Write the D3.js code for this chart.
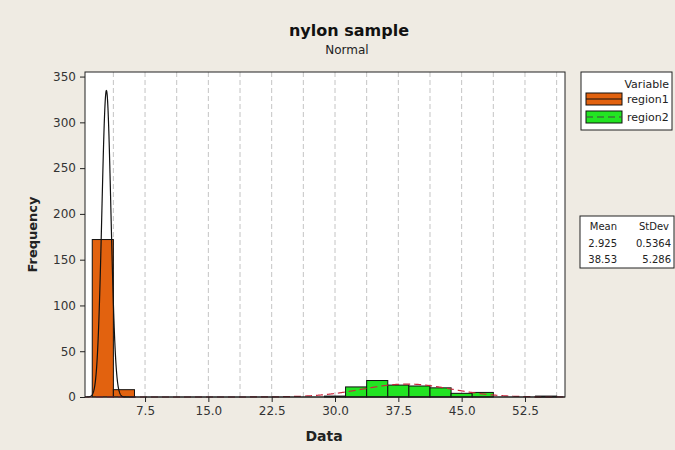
<!DOCTYPE html>
<html>
<head>
<script src="https://d3js.org/d3.v7.min.js"></script>
<title>nylon sample</title>
<style>
body {margin:0; background:#efebe3;}
text {font-family:"DejaVu Sans", Verdana, sans-serif;}
</style>
</head>
<body>
<div id="myDiv"></div>
<script>
// bins are 2.5 wide, values are midpoints
var region1Mids = [2.5, 5.0];
var region1Counts = [172, 8];
var region2Mids = [30.0, 32.5, 35.0, 37.5, 40.0, 42.5, 45.0, 47.5, 55.0];
var region2Counts = [1, 11, 18, 13, 12, 10, 4, 5, 1];
var binWidth = 2.5;

var seriesNames = ["region1", "region2"];
var means = [2.925, 38.53];
var stdevs = [0.5364, 5.286];
var meanLabels = ["2.925", "38.53"];
var stdevLabels = ["0.5364", "5.286"];

var xTicks = [7.5, 15.0, 22.5, 30.0, 37.5, 45.0, 52.5];
var gridStep = 3.75;
var yTicks = [0, 50, 100, 150, 200, 250, 300, 350];

var W = 675, H = 450;
var pLeft = 85, pRight = 565, pTop = 72, pBottom = 397;

var svg = d3.select("#myDiv").append("svg")
	.attr("width", W)
	.attr("height", H);

svg.append("rect").attr("width", W).attr("height", H).attr("fill", "#efebe3");

// scales
var xScale = d3.scaleLinear().domain([0.39, 57.24]).range([pLeft, pRight]);
var yScale = d3.scaleLinear().domain([0, 355]).range([pBottom, pTop]);

// plot area
svg.append("rect")
	.attr("x", pLeft).attr("y", pTop)
	.attr("width", pRight - pLeft).attr("height", pBottom - pTop)
	.attr("fill", "white");

// dashed grid lines every 3.75
var grid = d3.range(gridStep, 57, gridStep);
svg.selectAll(".grid").data(grid).enter()
	.append("line")
	.attr("class", "grid")
	.attr("x1", function(d) { return xScale(d); })
	.attr("x2", function(d) { return xScale(d); })
	.attr("y1", pTop).attr("y2", pBottom)
	.attr("stroke", "#c4c4c4")
	.attr("stroke-width", 1)
	.attr("stroke-dasharray", "5,3");

// histogram bars
function drawBars(mids, counts, color) {
	svg.append("g").selectAll("rect").data(mids).enter()
		.append("rect")
		.attr("x", function(d) { return xScale(d - binWidth / 2); })
		.attr("y", function(d, i) { return yScale(counts[i]); })
		.attr("width", function(d) { return xScale(d + binWidth / 2) - xScale(d - binWidth / 2); })
		.attr("height", function(d, i) { return yScale(0) - yScale(counts[i]); })
		.attr("fill", color)
		.attr("stroke", "#111")
		.attr("stroke-width", 1);
}
drawBars(region1Mids, region1Counts, "#e2620f");
drawBars(region2Mids, region2Counts, "#22e422");

// fitted normal curves
function normalCurve(mean, sd, n) {
	var pts = d3.range(0.39, 57.24, 0.02).map(function(x) {
		var z = (x - mean) / sd;
		return [x, n * binWidth * Math.exp(-z * z / 2) / (sd * Math.sqrt(2 * Math.PI))];
	});
	return d3.line()
		.x(function(d) { return xScale(d[0]); })
		.y(function(d) { return yScale(d[1]); })(pts);
}
var n1 = d3.sum(region1Counts), n2 = d3.sum(region2Counts);

svg.append("path")
	.attr("d", normalCurve(means[1], stdevs[1], n2))
	.attr("fill", "none")
	.attr("stroke", "#c8283e")
	.attr("stroke-width", 1.2)
	.attr("stroke-dasharray", "7,4");

svg.append("path")
	.attr("d", normalCurve(means[0], stdevs[0], n1))
	.attr("fill", "none")
	.attr("stroke", "#111")
	.attr("stroke-width", 1.2);

// frame
svg.append("rect")
	.attr("x", pLeft).attr("y", pTop)
	.attr("width", pRight - pLeft).attr("height", pBottom - pTop)
	.attr("fill", "none")
	.attr("stroke", "#222")
	.attr("stroke-width", 1);

// axes
var yaxis = d3.axisLeft(yScale).tickValues(yTicks).tickSizeOuter(0).tickSize(5).tickPadding(4);
var xaxis = d3.axisBottom(xScale).tickValues(xTicks).tickSizeOuter(0).tickSize(5).tickPadding(4)
	.tickFormat(d3.format(".1f"));

var gy = svg.append("g").attr("transform", "translate(" + pLeft + ",0)").call(yaxis);
var gx = svg.append("g").attr("transform", "translate(0," + pBottom + ")").call(xaxis);
[gx, gy].forEach(function(g) {
	g.select(".domain").remove();
	g.selectAll("line").attr("stroke", "#222");
	g.selectAll("text").attr("fill", "#333").style("font-size", "12px")
		.style("font-family", "'DejaVu Sans', Verdana, sans-serif");
});

// titles
svg.append("text").attr("x", 349).attr("y", 36)
	.attr("text-anchor", "middle")
	.style("font-size", "16px").style("font-weight", "bold")
	.attr("fill", "#111")
	.text("nylon sample");
svg.append("text").attr("x", 347).attr("y", 54)
	.attr("text-anchor", "middle")
	.style("font-size", "12px")
	.attr("fill", "#222")
	.text("Normal");

svg.append("text").attr("x", 324).attr("y", 441)
	.attr("text-anchor", "middle")
	.style("font-size", "14px").style("font-weight", "bold")
	.attr("fill", "#222")
	.text("Data");

svg.append("text")
	.attr("transform", "translate(37," + ((pTop + pBottom) / 2) + ") rotate(-90)")
	.attr("text-anchor", "middle")
	.style("font-size", "13px").style("font-weight", "bold")
	.attr("fill", "#222")
	.text("Frequency");

// legend
var legendColors = ["#e2620f", "#22e422"];
var legendLines = [{stroke: "#111", dash: null}, {stroke: "#444", dash: "7,4"}];
var lg = svg.append("g");
lg.append("rect").attr("x", 581).attr("y", 72).attr("width", 91).attr("height", 58)
	.attr("fill", "white").attr("stroke", "#222");
lg.append("text").attr("x", 669).attr("y", 88).attr("text-anchor", "end")
	.style("font-size", "11px").attr("fill", "#222").text("Variable");
seriesNames.forEach(function(name, i) {
	var yy = 93 + i * 18;
	lg.append("rect").attr("x", 586).attr("y", yy).attr("width", 36).attr("height", 12)
		.attr("fill", legendColors[i]).attr("stroke", "#111");
	lg.append("line").attr("x1", 586).attr("x2", 622).attr("y1", yy + 6).attr("y2", yy + 6)
		.attr("stroke", legendLines[i].stroke).attr("stroke-dasharray", legendLines[i].dash);
	lg.append("text").attr("x", 627).attr("y", yy + 10)
		.style("font-size", "11px").attr("fill", "#222").text(name);
});

// stats table
var sg = svg.append("g");
sg.append("rect").attr("x", 580).attr("y", 216).attr("width", 94).attr("height", 52)
	.attr("fill", "white").attr("stroke", "#222");
sg.append("text").attr("x", 617).attr("y", 230).attr("text-anchor", "end")
	.style("font-size", "10px").attr("fill", "#222").text("Mean");
sg.append("text").attr("x", 669).attr("y", 230).attr("text-anchor", "end")
	.style("font-size", "10px").attr("fill", "#222").text("StDev");
meanLabels.forEach(function(m, i) {
	sg.append("text").attr("x", 617).attr("y", 247 + i * 16).attr("text-anchor", "end")
		.style("font-size", "10px").attr("fill", "#222").text(m);
	sg.append("text").attr("x", 671).attr("y", 247 + i * 16).attr("text-anchor", "end")
		.style("font-size", "10px").attr("fill", "#222").text(stdevLabels[i]);
});
</script>
</body>
</html>
